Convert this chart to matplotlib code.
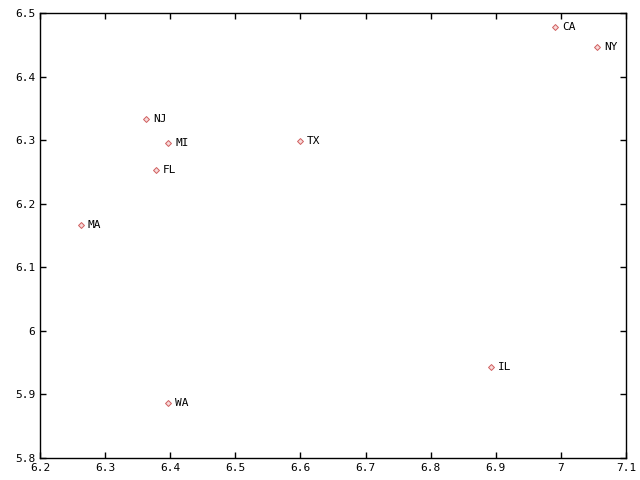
import matplotlib.pyplot as plt

states = ['CA', 'NY', 'NJ', 'MI', 'TX', 'FL', 'MA', 'IL', 'WA']
x_vals = [6.991, 7.056, 6.363, 6.397, 6.599, 6.378, 6.263, 6.893, 6.397]
y_vals = [6.478, 6.446, 6.333, 6.296, 6.299, 6.253, 6.167, 5.943, 5.887]

xticks = [6.2, 6.3, 6.4, 6.5, 6.6, 6.7, 6.8, 6.9, 7, 7.1]
yticks = [5.8, 5.9, 6, 6.1, 6.2, 6.3, 6.4, 6.5]

plt.rcParams['font.family'] = 'DejaVu Sans Mono'
fig = plt.figure(figsize=(6.4, 4.8), dpi=100)
ax = fig.add_axes([0.0625, 0.0458, 0.9156, 0.9271])

ax.scatter(x_vals, y_vals, marker='D', s=9, facecolors='#f8dada',
           edgecolors='#d06060', linewidths=0.7, zorder=3)
for s, x, y in zip(states, x_vals, y_vals):
    ax.annotate(s, (x, y), xytext=(5, 0), textcoords='offset points',
                va='center', ha='left', fontsize=8)

ax.set_xlim(6.2, 7.1)
ax.set_ylim(5.8, 6.5)
ax.set_xticks(xticks)
ax.set_xticklabels([str(t) for t in xticks])
ax.set_yticks(yticks)
ax.set_yticklabels([str(t) for t in yticks])
ax.tick_params(direction='in', top=True, right=True, length=4.5, width=1,
               labelsize=8)
for sp in ax.spines.values():
    sp.set_linewidth(1)

fig.savefig('out.png', dpi=100)
